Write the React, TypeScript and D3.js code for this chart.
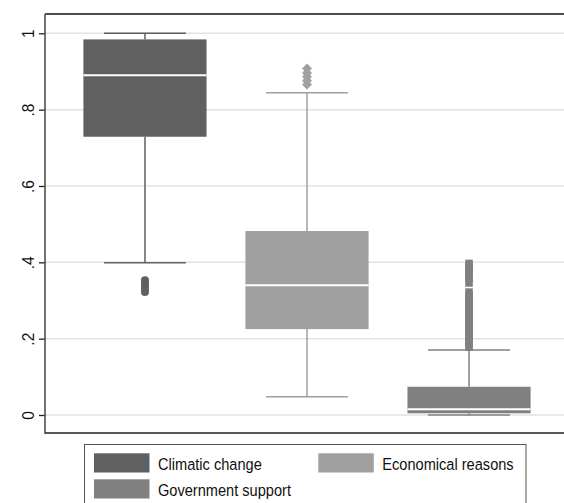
import { useEffect, useRef } from 'react'
import * as d3 from "d3";

// groups, in plotting order
const categories = ["Climatic change", "Economical reasons", "Government support"];
const boxColors = ["#606060", "#a0a0a0", "#808080"];

// box statistics
const lowerWhisker = [0.399, 0.048, 0];
const q1 = [0.729, 0.225, 0.0045];
const median = [0.89, 0.34, 0.015];
const q3 = [0.984, 0.482, 0.074];
const upperWhisker = [1, 0.844, 0.17];

// outside values
const outClimatic = [0.353, 0.345, 0.337, 0.329, 0.322];
const outEconomical = [0.908, 0.896, 0.886, 0.876, 0.866];
const outGovernment = [
	0.397, 0.390, 0.382, 0.374, 0.366, 0.358, 0.346,
	0.322, 0.314, 0.306, 0.298, 0.290, 0.282, 0.274, 0.266, 0.258, 0.250,
	0.242, 0.234, 0.226, 0.218, 0.210, 0.202, 0.194, 0.186, 0.178
];
const outliers = [outClimatic, outEconomical, outGovernment];

const yTicks = [0, 0.2, 0.4, 0.6, 0.8, 1];
const yTickLabels = ["0", ".2", ".4", ".6", ".8", "1"];

function BoxChart() {
	const ref = useRef(null);

	useEffect(() => {
		const W = 564, H = 503;
		const margin = { top: 14, left: 45, right: -5, bottom: 70 };
		const plotBottom = H - margin.bottom;

		const root = d3.select(ref.current);
		root.selectAll("*").remove();
		const svg = root.append("svg")
			.attr("width", W)
			.attr("height", H)
			.style("position", "absolute")
			.style("left", 0)
			.style("top", 0)
			.style("background", "#fff")
			.style("font-family", "Arial, 'Liberation Sans', Helvetica, sans-serif");

		const y = d3.scaleLinear().domain([0, 1]).range([415, 33.3]);
		const x = d3.scalePoint()
			.domain(categories)
			.range([margin.left, W - margin.right])
			.padding(0.617);
		const step = x.step();
		const boxW = step * 0.76;
		const capW = boxW * 0.665;

		// grid
		svg.append("g")
			.selectAll("line")
			.data(yTicks)
			.join("line")
			.attr("x1", margin.left)
			.attr("x2", W)
			.attr("y1", d => y(d))
			.attr("y2", d => y(d))
			.attr("stroke", "#e2e2e2")
			.attr("stroke-width", 1.5);

		// frame lines
		svg.append("line")
			.attr("x1", margin.left).attr("x2", W)
			.attr("y1", margin.top).attr("y2", margin.top)
			.attr("stroke", "#111").attr("stroke-width", 1.5);
		svg.append("line")
			.attr("x1", margin.left).attr("x2", W)
			.attr("y1", plotBottom).attr("y2", plotBottom)
			.attr("stroke", "#222").attr("stroke-width", 1.5);

		// y axis
		const yAxis = svg.append("g")
			.attr("transform", `translate(${margin.left},0)`)
			.call(d3.axisLeft(y).tickValues(yTicks).tickSize(6).tickFormat((d, i) => yTickLabels[i]));
		yAxis.select(".domain").remove();
		yAxis.selectAll(".tick line").attr("stroke", "#222").attr("stroke-width", 1.3);
		yAxis.selectAll(".tick text")
			.attr("x", null).attr("dy", null)
			.attr("transform", "translate(-11.5,0) rotate(-90) scale(1,1.1)")
			.attr("text-anchor", "middle")
			.style("font-size", "15.5px")
			.attr("fill", "#111");
		svg.append("line")
			.attr("x1", margin.left).attr("x2", margin.left)
			.attr("y1", margin.top).attr("y2", plotBottom + 0.75)
			.attr("stroke", "#444").attr("stroke-width", 1.5);

		const groups = svg.append("g")
			.selectAll("g")
			.data(categories)
			.join("g");

		groups.each(function (name, i) {
			const g = d3.select(this);
			const cx = x(name);
			const col = boxColors[i];
			// whiskers
			g.append("line")
				.attr("x1", cx).attr("x2", cx)
				.attr("y1", y(upperWhisker[i])).attr("y2", y(q3[i]))
				.attr("stroke", col).attr("stroke-width", 1.5);
			g.append("line")
				.attr("x1", cx).attr("x2", cx)
				.attr("y1", y(q1[i])).attr("y2", y(lowerWhisker[i]))
				.attr("stroke", col).attr("stroke-width", 1.5);
			[upperWhisker[i], lowerWhisker[i]].forEach(v => {
				g.append("line")
					.attr("x1", cx - capW / 2).attr("x2", cx + capW / 2)
					.attr("y1", y(v)).attr("y2", y(v))
					.attr("stroke", col).attr("stroke-width", 1.5);
			});
			// box
			g.append("rect")
				.attr("x", cx - boxW / 2)
				.attr("width", boxW)
				.attr("y", y(q3[i]))
				.attr("height", y(q1[i]) - y(q3[i]))
				.attr("fill", col);
			g.append("line")
				.attr("x1", cx - boxW / 2).attr("x2", cx + boxW / 2)
				.attr("y1", y(median[i])).attr("y2", y(median[i]))
				.attr("stroke", "#fff").attr("stroke-width", 2);
		});

		// outside values: circle, diamond, square
		const markers = [
			(g, cx, cy, col) => g.append("circle").attr("cx", cx).attr("cy", cy).attr("r", 4).attr("fill", col),
			(g, cx, cy, col) => g.append("path")
				.attr("d", `M${cx},${cy - 5}L${cx + 5},${cy}L${cx},${cy + 5}L${cx - 5},${cy}Z`)
				.attr("fill", col),
			(g, cx, cy, col) => g.append("rect")
				.attr("x", cx - 3.8).attr("y", cy - 3.8).attr("width", 7.6).attr("height", 7.6)
				.attr("fill", col)
		];
		const pts = svg.append("g");
		outliers.forEach((vals, i) => {
			vals.forEach(v => markers[i](pts, x(categories[i]), y(v), boxColors[i]));
		});

		// legend
		const leg = svg.append("g");
		leg.append("rect")
			.attr("x", 84.5).attr("y", 444.5)
			.attr("width", 441.5).attr("height", 70)
			.attr("fill", "#fff")
			.attr("stroke", "#555").attr("stroke-width", 1);
		const legPos = [[94, 453.3], [318.3, 453.3], [94, 479.3]];
		categories.forEach((name, i) => {
			const [lx, ly] = legPos[i];
			leg.append("rect")
				.attr("x", lx).attr("y", ly)
				.attr("width", 55.5).attr("height", 19.2)
				.attr("fill", boxColors[i]);
			leg.append("text")
				.attr("transform", `translate(${lx + 64},${ly + 16.8}) scale(1,1.17)`)
				.style("font-size", "14.6px")
				.attr("fill", "#111")
				.text(name);
		});
	}, []);

	return (
		<div ref={ref} />
	);
}

export default function App() {
	return <BoxChart />;
}
